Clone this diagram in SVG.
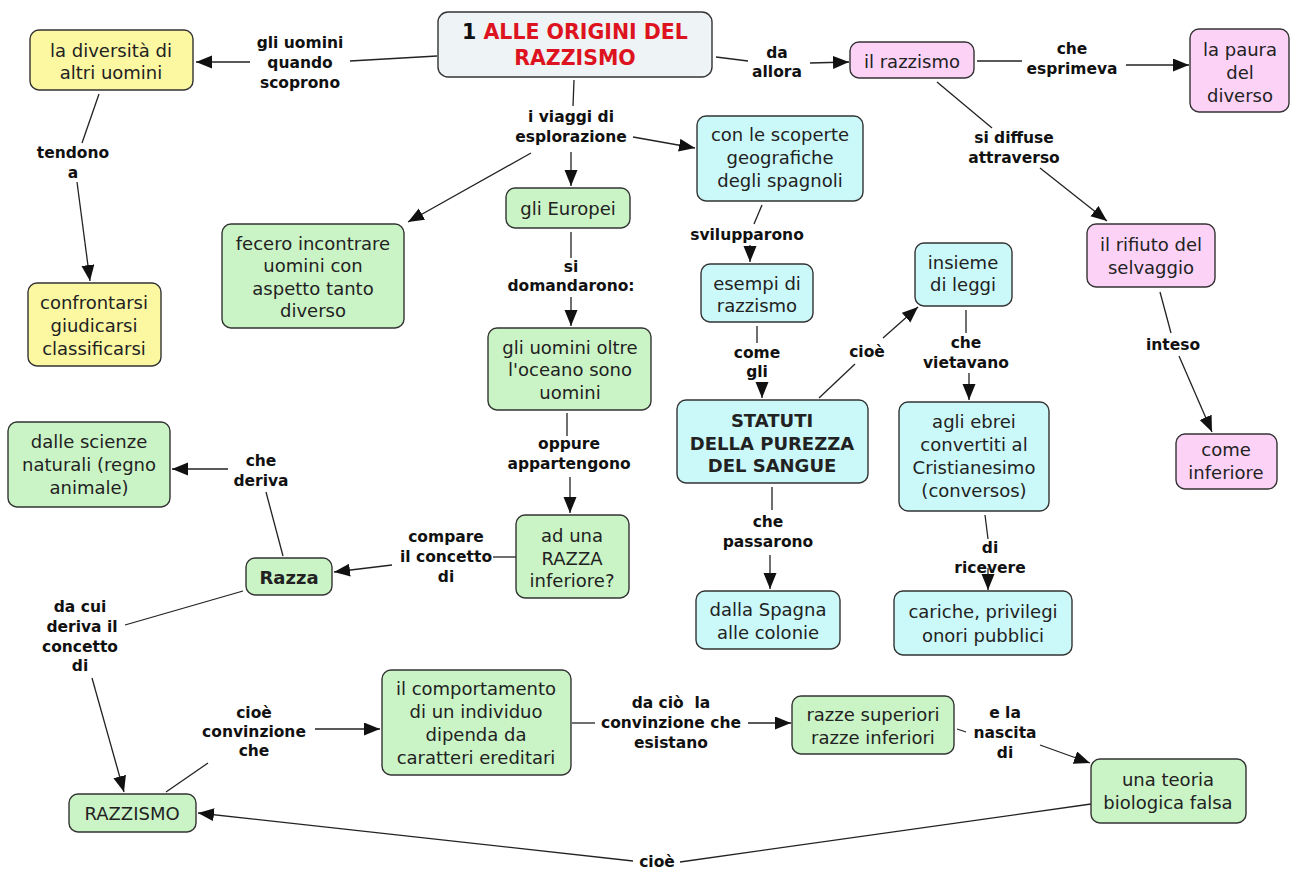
<svg xmlns="http://www.w3.org/2000/svg" width="1290" height="872" viewBox="0 0 1290 872">
<defs>
<marker id="ah" markerUnits="userSpaceOnUse" markerWidth="17" markerHeight="14" refX="16" refY="6.5" orient="auto">
<path d="M0,0 L16,6.5 L0,13 z" fill="#111"/>
</marker>
<style>
.n rect{stroke:#333;stroke-width:1.4}
.y rect{fill:#fcf8a2}
.g rect{fill:#cbf4c6}
.c rect{fill:#cbf9f9}
.p rect{fill:#fcd3f7}
.t rect{fill:#eef3f5}
.n text{font-family:"DejaVu Sans",Verdana,sans-serif;font-size:18px;fill:#222;text-anchor:middle;dominant-baseline:central}
.n text.b{font-weight:bold}
.lbl text{font-family:"DejaVu Sans",Verdana,sans-serif;font-size:15.5px;font-weight:bold;fill:#111;text-anchor:middle;dominant-baseline:central;white-space:pre}
#connectors path{fill:none;stroke:#222;stroke-width:1.3}
#connectors path.a{marker-end:url(#ah)}
</style>
</defs>
<rect width="1290" height="872" fill="#fff"/>

<g id="connectors">
<path d="M437,56 L350,61"/><path class="a" d="M250,62 L196,62"/>
<path d="M99,94 L82,143"/><path class="a" d="M77,182 L90,281"/>
<path d="M574,80 L573,106"/><path class="a" d="M571,152 L571,186"/><path class="a" d="M633,137 L695,148"/><path class="a" d="M531,153 L408,222"/>
<path d="M571,232 L571,258"/><path class="a" d="M571,297 L571,326"/>
<path d="M762,205 L754,224"/><path class="a" d="M750,245 L750,262"/>
<path d="M757,326 L757,343"/><path class="a" d="M762,383 L762,398"/>
<path d="M819,398 L855,364"/><path class="a" d="M883,338 L918,307"/>
<path d="M966,310 L966,333"/><path class="a" d="M969,373 L969,400"/>
<path d="M772,487 L772,510"/><path class="a" d="M770,555 L770,589"/>
<path d="M985,515 L988,539"/><path class="a" d="M988,568 L988,590"/>
<path d="M716,57 L748,61"/><path class="a" d="M810,63 L849,62"/>
<path d="M977,61 L1022,61"/><path class="a" d="M1126,65 L1189,65"/>
<path d="M937,82 L992,128"/><path class="a" d="M1040,168 L1107,221"/>
<path d="M1160,292 L1171,333"/><path class="a" d="M1179,356 L1212,432"/>
<path d="M567,413 L567,436"/><path class="a" d="M570,477 L570,513"/>
<path d="M516,557 L493,557"/><path class="a" d="M392,565 L334,572"/>
<path d="M283,556 L266,492"/><path class="a" d="M228,469 L172,469"/>
<path d="M243,591 L125,625"/><path class="a" d="M92,678 L124,792"/>
<path d="M166,792 L208,763"/><path class="a" d="M315,729 L380,729"/>
<path d="M572,723 L595,723"/><path class="a" d="M748,723 L791,723"/>
<path d="M957,729 L966,732"/><path class="a" d="M1040,745 L1090,763"/>
<path d="M1091,804 L680,862"/><path class="a" d="M633,861 L198,813"/>
</g>

<g id="labels" class="lbl">
<text x="300" y="43">gli uomini</text><text x="300" y="63">quando</text><text x="300" y="83">scoprono</text>
<text x="73" y="153">tendono</text><text x="73" y="173">a</text>
<text x="571" y="117">i viaggi di</text><text x="571" y="137">esplorazione</text>
<text x="571" y="267">si</text><text x="571" y="286">domandarono:</text>
<text x="747" y="235">svilupparono</text>
<text x="757" y="353">come</text><text x="757" y="372">gli</text>
<text x="867" y="352">cioè</text>
<text x="966" y="343">che</text><text x="966" y="363">vietavano</text>
<text x="768" y="522">che</text><text x="768" y="542">passarono</text>
<text x="990" y="548">di</text><text x="990" y="568">ricevere</text>
<text x="777" y="53">da</text><text x="777" y="72">allora</text>
<text x="1072" y="49">che</text><text x="1072" y="69">esprimeva</text>
<text x="1014" y="138">si diffuse</text><text x="1014" y="158">attraverso</text>
<text x="1173" y="345">inteso</text>
<text x="569" y="444">oppure</text><text x="569" y="464">appartengono</text>
<text x="446" y="537">compare</text><text x="446" y="557">il concetto</text><text x="446" y="577">di</text>
<text x="261" y="461">che</text><text x="261" y="481">deriva</text>
<text x="80" y="607">da cui</text><text x="82" y="627">deriva il</text><text x="80" y="647">concetto</text><text x="80" y="666">di</text>
<text x="254" y="713">cioè</text><text x="254" y="732">convinzione</text><text x="254" y="751">che</text>
<text x="671" y="703">da ciò  la</text><text x="671" y="723">convinzione che</text><text x="671" y="743">esistano</text>
<text x="1005" y="713">e la</text><text x="1005" y="733">nascita</text><text x="1005" y="753">di</text>
<text x="657" y="862">cioè</text>
</g>

<g id="n-title" class="n t">
<rect x="438" y="12" width="274" height="65" rx="10"/>
<text class="b" x="575" y="32" style="font-size:20.5px"><tspan fill="#111">1 </tspan><tspan fill="#dd1420">ALLE ORIGINI DEL</tspan></text>
<text class="b" x="575" y="58" style="font-size:20.5px;fill:#dd1420">RAZZISMO</text>
</g>
<g id="n-diversita" class="n y">
<rect x="30" y="30" width="163" height="60" rx="9"/>
<text x="111" y="50">la diversità di</text><text x="111" y="72">altri uomini</text>
</g>
<g id="n-confrontarsi" class="n y">
<rect x="28" y="283" width="133" height="83" rx="9"/>
<text x="94" y="302">confrontarsi</text><text x="94" y="325">giudicarsi</text><text x="94" y="348">classificarsi</text>
</g>
<g id="n-fecero" class="n g">
<rect x="222" y="224" width="182" height="104" rx="9"/>
<text x="313" y="243">fecero incontrare</text><text x="313" y="265">uomini con</text><text x="313" y="288">aspetto tanto</text><text x="313" y="310">diverso</text>
</g>
<g id="n-europei" class="n g">
<rect x="506" y="188" width="124" height="40" rx="9"/>
<text x="568" y="208">gli Europei</text>
</g>
<g id="n-scoperte" class="n c">
<rect x="697" y="116" width="166" height="85" rx="9"/>
<text x="780" y="134">con le scoperte</text><text x="780" y="157">geografiche</text><text x="780" y="180">degli spagnoli</text>
</g>
<g id="n-esempi" class="n c">
<rect x="701" y="264" width="112" height="58" rx="9"/>
<text x="757" y="283">esempi di</text><text x="757" y="305">razzismo</text>
</g>
<g id="n-oltre" class="n g">
<rect x="488" y="328" width="163" height="82" rx="9"/>
<text x="570" y="347">gli uomini oltre</text><text x="570" y="369">l'oceano sono</text><text x="570" y="392">uomini</text>
</g>
<g id="n-razzismo" class="n p">
<rect x="850" y="42" width="124" height="36" rx="9"/>
<text x="912" y="61">il razzismo</text>
</g>
<g id="n-paura" class="n p">
<rect x="1190" y="29" width="99" height="83" rx="9"/>
<text x="1240" y="49">la paura</text><text x="1240" y="72">del</text><text x="1240" y="95">diverso</text>
</g>
<g id="n-rifiuto" class="n p">
<rect x="1087" y="224" width="128" height="63" rx="9"/>
<text x="1151" y="244">il rifiuto del</text><text x="1151" y="267">selvaggio</text>
</g>
<g id="n-insieme" class="n c">
<rect x="915" y="243" width="97" height="63" rx="9"/>
<text x="963" y="262">insieme</text><text x="963" y="284">di leggi</text>
</g>
<g id="n-inferiore" class="n p">
<rect x="1176" y="434" width="101" height="55" rx="9"/>
<text x="1226" y="449">come</text><text x="1226" y="472">inferiore</text>
</g>
<g id="n-ebrei" class="n c">
<rect x="899" y="402" width="150" height="109" rx="9"/>
<text x="974" y="421">agli ebrei</text><text x="974" y="444">convertiti al</text><text x="974" y="467">Cristianesimo</text><text x="974" y="490">(conversos)</text>
</g>
<g id="n-statuti" class="n c">
<rect x="677" y="400" width="191" height="83" rx="9"/>
<text class="b" x="772" y="420">STATUTI</text><text class="b" x="772" y="443">DELLA PUREZZA</text><text class="b" x="772" y="465">DEL SANGUE</text>
</g>
<g id="n-spagna" class="n c">
<rect x="696" y="591" width="144" height="58" rx="9"/>
<text x="768" y="609">dalla Spagna</text><text x="768" y="632">alle colonie</text>
</g>
<g id="n-cariche" class="n c">
<rect x="894" y="591" width="178" height="64" rx="9"/>
<text x="983" y="611">cariche, privilegi</text><text x="983" y="635">onori pubblici</text>
</g>
<g id="n-scienze" class="n g">
<rect x="8" y="422" width="162" height="85" rx="9"/>
<text x="89" y="441">dalle scienze</text><text x="89" y="464">naturali (regno</text><text x="89" y="487">animale)</text>
</g>
<g id="n-razzainf" class="n g">
<rect x="516" y="515" width="113" height="83" rx="9"/>
<text x="572" y="535">ad una</text><text x="572" y="558">RAZZA</text><text x="572" y="580">inferiore?</text>
</g>
<g id="n-razza" class="n g">
<rect x="246" y="558" width="86" height="37" rx="9"/>
<text class="b" x="289" y="577">Razza</text>
</g>
<g id="n-RAZZISMO" class="n g">
<rect x="69" y="794" width="127" height="38" rx="9"/>
<text x="132" y="813">RAZZISMO</text>
</g>
<g id="n-comportamento" class="n g">
<rect x="382" y="670" width="189" height="105" rx="9"/>
<text x="476" y="688">il comportamento</text><text x="476" y="711">di un individuo</text><text x="476" y="734">dipenda da</text><text x="476" y="757">caratteri ereditari</text>
</g>
<g id="n-razze" class="n g">
<rect x="792" y="696" width="162" height="58" rx="9"/>
<text x="873" y="714">razze superiori</text><text x="873" y="737">razze inferiori</text>
</g>
<g id="n-teoria" class="n g">
<rect x="1091" y="759" width="155" height="64" rx="9"/>
<text x="1168" y="779">una teoria</text><text x="1168" y="802">biologica falsa</text>
</g>
</svg>
